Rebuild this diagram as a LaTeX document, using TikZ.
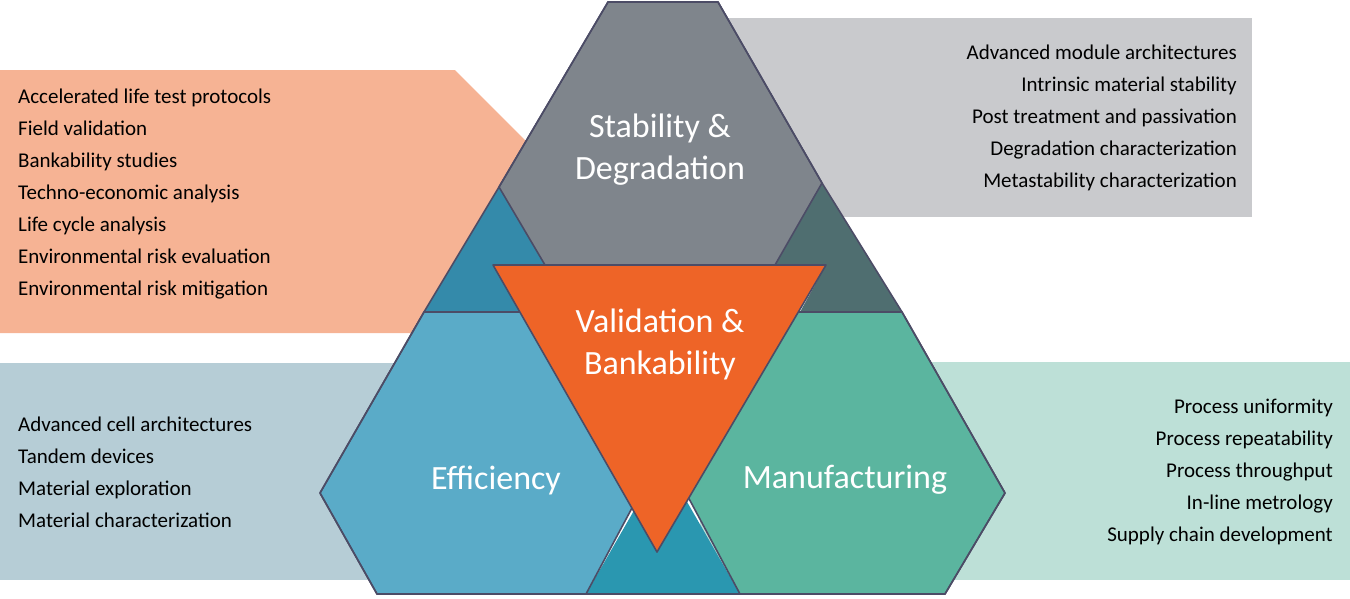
\documentclass[tikz,border=0pt]{standalone}
\usepackage{fontspec}
\setmainfont{Carlito}
\begin{document}
\begin{tikzpicture}[x=1pt,y=-1pt,
  edge/.style={draw=black!75!blue!40!gray, line width=1.6pt, line join=round},
  listl/.style={anchor=west, font=\fontsize{21}{32}\selectfont, align=left, inner sep=0pt},
  listr/.style={anchor=east, font=\fontsize{21}{32}\selectfont, align=right, inner sep=0pt},
  hexlabel/.style={text=white, font=\fontsize{34}{42}\selectfont, align=center, inner sep=0pt}]
\definecolor{cOrBox}{HTML}{F6B394}
\definecolor{cGrBox}{HTML}{C9CACD}
\definecolor{cBlBox}{HTML}{B6CDD6}
\definecolor{cGnBox}{HTML}{BDE0D7}
\definecolor{cGray}{HTML}{7F858C}
\definecolor{cBlue}{HTML}{5AABC8}
\definecolor{cDBlue}{HTML}{348AAA}
\definecolor{cBBlue}{HTML}{2A97B0}
\definecolor{cGreen}{HTML}{5BB59F}
\definecolor{cDTeal}{HTML}{4F6E70}
\definecolor{cOrange}{HTML}{EE6427}
\useasboundingbox (0,0) rectangle (1350,598);
% side boxes
\fill[cOrBox] (0,70) -- (455,70) -- (600,215) -- (600,333) -- (0,333) -- cycle;
\fill[cGrBox] (700,18) rectangle (1252,217);
\fill[cBlBox] (0,363) rectangle (600,580);
\fill[cGnBox] (700,362) rectangle (1350,580);
% dark corner triangles
\fill[cDBlue] (499,187) -- (545,265) -- (493,265) -- (520,312) -- (424,312) -- cycle;
\fill[cDTeal] (822,183) -- (775,265) -- (826,265) -- (800,312) -- (902,312) -- cycle;
\fill[cBBlue] (586,594) -- (663,460) -- (740,594) -- cycle;
% hexagons
\path[fill=cGray, edge] (608,2) -- (718,2) -- (822,183) -- (775,265) -- (545,265) -- (499,187) -- cycle;
\path[fill=cBlue, edge] (424,312) -- (600,312) -- (663,450) -- (586,594) -- (377,594) -- (320,493) -- cycle;
\path[fill=cGreen, edge] (902,312) -- (726,312) -- (663,450) -- (740,594) -- (945,594) -- (1005,493) -- cycle;
% outer outline
\draw[edge] (608,2) -- (499,187) -- (424,312) -- (320,493) -- (377,594) -- (945,594) -- (1005,493) -- (902,312) -- (822,183) -- (718,2) -- cycle;
\draw[edge] (424,312) -- (520,312) (800,312) -- (902,312);
\draw[edge] (545,265) -- (520,312);
% orange triangle
\path[fill=cOrange, edge] (493,265) -- (826,265) -- (657,552) -- cycle;
% labels
\node[hexlabel] (stab) at (660,150) {Stability \&\\Degradation};
\node[hexlabel] (valid) at (660,344) {Validation \&\\Bankability};
\node[hexlabel] (eff) at (496,480) {Efficiency};
\node[hexlabel] (man) at (845,480) {Manufacturing};
% lists
\node[listl] (lo) at (18,194) {Accelerated life test protocols\\Field validation\\Bankability studies\\Techno-economic analysis\\Life cycle analysis\\Environmental risk evaluation\\Environmental risk mitigation};
\node[listr] (rg) at (1237,118) {Advanced module architectures\\Intrinsic material stability\\Post treatment and passivation\\Degradation characterization\\Metastability characterization};
\node[listl] (lb) at (18,472) {Advanced cell architectures\\Tandem devices\\Material exploration\\Material characterization};
\node[listr] (rgn) at (1333,472) {Process uniformity\\Process repeatability\\Process throughput\\In-line metrology\\Supply chain development};
\end{tikzpicture}
\end{document}
